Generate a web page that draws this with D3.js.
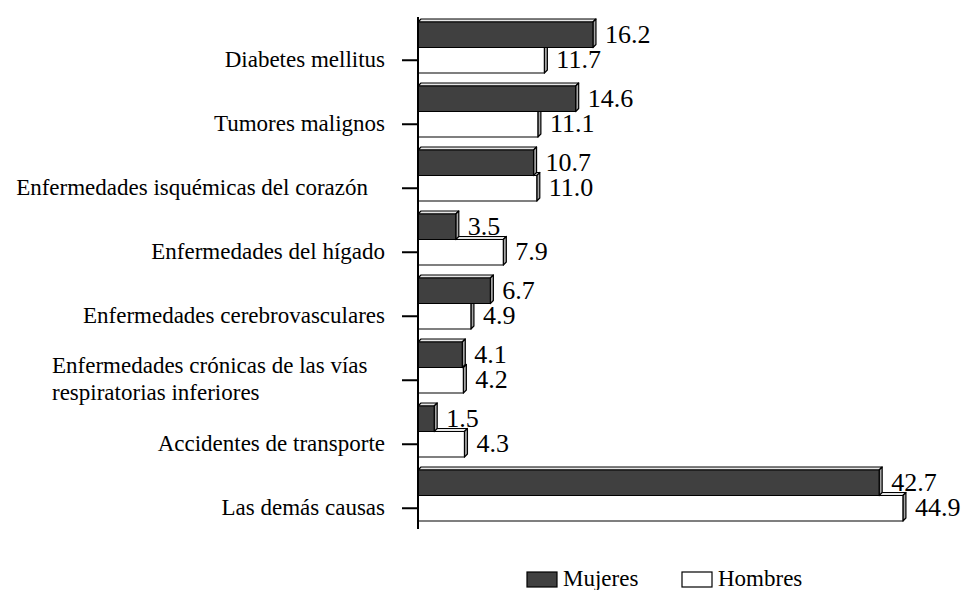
<html>
  <head><meta charset="utf-8"></head>
  <body style="margin:0;background:#fff">
    <script src="https://d3js.org/d3.v7.min.js"></script>
    <svg id="chart" width="966" height="590"></svg>
    <script>
      const categories = [
        'Diabetes mellitus',
        'Tumores malignos',
        'Enfermedades isquémicas del corazón',
        'Enfermedades del hígado',
        'Enfermedades cerebrovasculares',
        'Enfermedades crónicas de las vías|respiratorias inferiores',
        'Accidentes de transporte',
        'Las demás causas'
      ];
      const seriesNames = ['Mujeres', 'Hombres'];
      const mujeres = [16.2, 14.6, 10.7, 3.5, 6.7, 4.1, 1.5, 42.7];
      const hombres = [11.7, 11.1, 11.0, 7.9, 4.9, 4.2, 4.3, 44.9];

      const colors = { Mujeres: '#404040', Hombres: '#ffffff' };
      const font = '"Liberation Serif", "Times New Roman", serif';
      const depth = 3;

      const svg = d3.select('#chart');
      const x = d3.scaleLinear().domain([0, 45]).range([418, 904]);
      const y = d3.scaleBand().domain(categories).range([17, 529]);
      const ySub = d3.scaleBand().domain(seriesNames).range([5, 56]);
      const barH = ySub.bandwidth();

      const rows = [];
      categories.forEach((c, i) => {
        rows.push({ cat: c, s: 'Hombres', v: hombres[i] });
        rows.push({ cat: c, s: 'Mujeres', v: mujeres[i] });
      });

      // bars with a small 3d edge (draw Hombres first so Mujeres sits on top)
      const bars = svg.append('g');
      rows.forEach((d) => {
        const y0 = y(d.cat) + ySub(d.s);
        const x0 = x(0);
        const x1 = x(d.v);
        const g = bars.append('g').attr('stroke', '#000').attr('stroke-width', 1.2).attr('stroke-linejoin', 'round');
        g.append('polygon')
          .attr('points', [[x0, y0], [x0 + depth, y0 - depth], [x1 + depth, y0 - depth], [x1, y0]].join(' '))
          .attr('fill', '#e6e6e6');
        g.append('polygon')
          .attr('points', [[x1, y0], [x1 + depth, y0 - depth], [x1 + depth, y0 + barH - depth], [x1, y0 + barH]].join(' '))
          .attr('fill', '#a6a6a6');
        g.append('rect')
          .attr('x', x0)
          .attr('y', y0)
          .attr('width', x1 - x0)
          .attr('height', barH)
          .attr('fill', colors[d.s]);
      });

      // value labels
      svg.append('g')
        .selectAll('text')
        .data(rows)
        .join('text')
        .attr('x', (d) => x(d.v) + 12)
        .attr('y', (d) => y(d.cat) + ySub(d.s) + barH / 2 + 8)
        .style('font-family', font)
        .style('font-size', '26px')
        .attr('fill', '#000')
        .text((d) => d.v.toFixed(1));

      // axis line and ticks
      const tickY = (c) => y(c) + ySub('Hombres') + barH / 2;
      svg.append('line')
        .attr('x1', x(0)).attr('x2', x(0))
        .attr('y1', y.range()[0]).attr('y2', y.range()[1])
        .attr('stroke', '#000').attr('stroke-width', 2);
      svg.append('g')
        .selectAll('line')
        .data(categories)
        .join('line')
        .attr('x1', x(0) - 16).attr('x2', x(0))
        .attr('y1', tickY).attr('y2', tickY)
        .attr('stroke', '#000').attr('stroke-width', 2);

      // category labels (the isquémicas label carries trailing space in the original)
      svg.append('g')
        .selectAll('text')
        .data(categories)
        .join('text')
        .style('font-family', font)
        .style('font-size', '23px')
        .attr('fill', '#000')
        .each(function (c, i) {
          const lines = c.split('|');
          const t = d3.select(this);
          if (lines.length === 1) {
            t.attr('x', i === 2 ? 368 : 385).attr('y', tickY(c) + 7).attr('text-anchor', 'end').text(c);
          } else {
            lines.forEach((l, k) => {
              t.append('tspan')
                .attr('x', 52)
                .attr('y', tickY(c) - 7 + k * 27)
                .text(l);
            });
          }
        });

      // legend
      const legend = svg.append('g');
      const legendX = [527, 682];
      seriesNames.forEach((s, i) => {
        legend.append('rect')
          .attr('x', legendX[i]).attr('y', 572)
          .attr('width', 30).attr('height', 15)
          .attr('fill', colors[s]).attr('stroke', '#000').attr('stroke-width', 1.2);
        legend.append('text')
          .attr('x', legendX[i] + 36).attr('y', 586)
          .style('font-family', font)
          .style('font-size', '23px')
          .text(s);
      });
    </script>
  </body>
</html>
